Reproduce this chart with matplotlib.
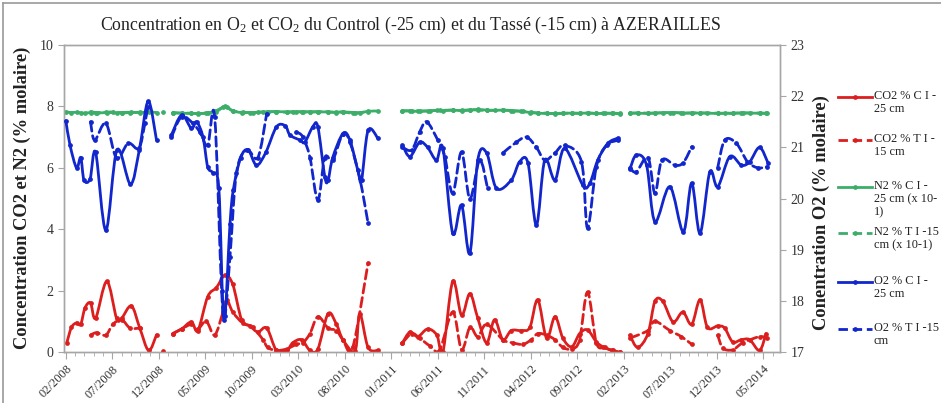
import numpy as np
import matplotlib
matplotlib.use("Agg")
import matplotlib.pyplot as plt
from matplotlib.path import Path
from matplotlib.patches import PathPatch
from matplotlib.lines import Line2D

plt.rcParams['font.family'] = ['Liberation Serif', 'DejaVu Serif']
plt.rcParams['mathtext.fontset'] = 'custom'
plt.rcParams['mathtext.rm'] = 'Liberation Serif'
plt.rcParams['mathtext.it'] = 'Liberation Serif:italic'
plt.rcParams['mathtext.bf'] = 'Liberation Serif:bold'

nan = np.nan

# x = months since 02/2008
tick_labels = ['02/2008', '07/2008', '12/2008', '05/2009', '10/2009', '03/2010', '08/2010', '01/2011',
               '06/2011', '11/2011', '04/2012', '09/2012', '02/2013', '07/2013', '12/2013', '05/2014']

co2_ci_x = [0.1, 0.6, 1.15, 1.6, 2.05, 2.65, 3.2, 4.4, 5.45, 6.0, 7.05, 7.95, 8.9, 9.75, nan,
            11.5, 12.45, 13.5, 14.2, 15.25, 16.2, 17.1, 17.95, 18.9, 19.8, 20.65, 21.6, 22.65, 23.75, 24.4,
            25.35, 26.25, 27.1, 28.2, 29.1, 29.8, 31.1, 31.6, 32.5, 33.55, nan,
            36.2, 37.0, 37.85, 38.9, 39.9, 40.55, 41.6, 42.55, 43.45, 44.3, 45.25, 46.1, 47.0, 47.9, 49.0,
            49.9, 50.75, 51.7, 52.6, 53.45, 54.4, 55.25, 56.1, 57.05, 57.75, 58.7, 59.55, nan,
            60.65, 61.5, 62.6, 63.35, 64.2, 65.3, 66.35, 67.3, 68.2, 69.0, 70.1, 70.85, 71.7, 72.65, 73.55,
            74.6, 75.3]
co2_ci_y = [0.3, 0.8, 0.95, 0.9, 1.43, 1.6, 1.1, 2.3, 1.1, 1.1, 1.5, 0.78, 0.05, 0.56, nan,
            0.6, 0.75, 0.98, 0.7, 1.8, 2.1, 2.5, 2.2, 1.05, 0.85, 0.65, 0.78, 0.05, 0.05, 0.3,
            0.4, 0.05, 0.1, 1.25, 0.9, 0.4, 0.03, 1.25, 0.15, 0.05, nan,
            0.3, 0.65, 0.5, 0.75, 0.55, 0.0, 2.3, 1.2, 1.9, 1.1, 0.3, 1.05, 0.4, 0.7, 0.7,
            0.8, 1.7, 0.45, 1.15, 0.45, 0.17, 0.6, 0.72, 0.33, 0.17, 0.05, 0.0, nan,
            0.55, 0.15, 0.6, 1.65, 1.65, 0.98, 1.3, 0.9, 1.7, 0.8, 0.85, 0.78, 0.33, 0.4, 0.4,
            0.05, 0.6]

co2_ti_x = [2.65, 3.3, 4.3, 5.05, 6.0, 6.9, 7.95, nan, 10.5, nan,
            11.5, 12.45, 13.5, 14.2, 15.1, 16.0, 16.9, 17.3, 17.95, 19.0, 20.1, 21.2, 21.7, 22.65, 23.75,
            24.8, 25.5, 26.25, 27.1, 28.2, 29.1, 29.8, 30.85, 32.5, nan,
            36.2, 37.2, 38.05, 39.15, 40.2, 41.6, 42.55, 43.45, 44.3, 45.25, 47.0, 48.05, 49.15, 50.05,
            50.75, 51.7, 52.6, 53.45, 54.4, 55.25, 56.1, 57.05, 57.95, 58.8, 59.55, nan,
            60.65, 62.6, 63.35, 64.95, 66.2, 67.3, nan,
            70.1, 70.65, 71.7, 72.8, 74.6, 75.35]
co2_ti_y = [0.55, 0.63, 0.55, 0.9, 1.05, 0.78, 0.78, nan, 0.02, nan,
            0.6, 0.75, 0.9, 0.75, 1.0, 0.55, 1.3, 1.7, 1.3, 0.95, 0.8, 0.4, 0.15, 0.05, 0.1,
            0.25, 0.3, 0.6, 1.15, 0.78, 0.7, 0.4, 0.15, 2.9, nan,
            0.3, 0.6, 0.45, 0.2, 0.07, 1.3, 0.08, 0.8, 0.5, 0.9, 0.4, 0.3, 0.25, 0.4,
            0.6, 0.55, 0.4, 0.15, 0.1, 0.4, 1.95, 0.3, 0.15, 0.05, 0.0, nan,
            0.45, 0.7, 1.0, 0.7, 0.5, 0.25, nan,
            0.55, 0.13, 0.07, 0.3, 0.5, 0.45]

n2_ci_x = [0.0, 0.6, 1.15, 1.6, 2.05, 2.65, 3.2, 4.4, 5.45, 6.0, 7.05, 7.95, 8.9, 9.75, nan,
           11.5, 12.45, 13.5, 14.2, 15.25, 16.2, 17.1, 17.95, 18.9, 19.8, 20.65, 21.6, 22.65, 23.75, 24.4,
           25.35, 26.25, 27.1, 28.2, 29.1, 29.8, 31.1, 31.6, 32.5, 33.55, nan,
           36.2, 37.0, 37.85, 38.9, 39.9, 40.55, 41.6, 42.55, 43.45, 44.3, 45.25, 46.1, 47.0, 47.9, 49.0,
           49.9, 50.75, 51.7, 52.6, 53.45, 54.4, 55.25, 56.1, 57.05, 57.75, 58.7, 59.55, nan,
           60.65, 61.5, 62.6, 63.35, 64.2, 65.3, 66.35, 67.3, 68.2, 69.0, 70.1, 70.85, 71.7, 72.65, 73.55,
           74.6, 75.3]
n2_ci_y = [7.82, 7.8, 7.81, 7.79, 7.78, 7.8, 7.78, 7.8, 7.79, 7.8, 7.81, 7.8, 7.82, 7.8, nan,
           7.8, 7.78, 7.77, 7.77, 7.78, 7.83, 8.0, 7.85, 7.8, 7.8, 7.81, 7.82, 7.83, 7.82, 7.83,
           7.82, 7.83, 7.82, 7.82, 7.81, 7.82, 7.8, 7.79, 7.84, 7.85, nan,
           7.86, 7.85, 7.84, 7.85, 7.87, 7.86, 7.88, 7.86, 7.88, 7.9, 7.88, 7.87, 7.88, 7.86, 7.84,
           7.8, 7.78, 7.77, 7.77, 7.78, 7.78, 7.78, 7.78, 7.77, 7.77, 7.78, 7.77, nan,
           7.78, 7.78, 7.77, 7.79, 7.79, 7.8, 7.78, 7.79, 7.78, 7.78, 7.77, 7.78, 7.78, 7.79, 7.78,
           7.78, 7.77]

n2_ti_x = [2.65, 3.3, 4.3, 5.05, 6.0, 6.9, 7.95, nan, 10.5, nan,
           11.5, 12.45, 13.5, 14.2, 15.1, 16.0, 16.9, 17.3, 17.95, 19.0, 20.1, 21.2, 21.7, 22.65, 23.75,
           24.8, 25.5, 26.25, 27.1, 28.2, 29.1, 29.8, 30.85, 32.5, nan,
           36.2, 37.2, 38.05, 39.15, 40.2, 41.6, 42.55, 43.45, 44.3, 45.25, 47.0, 48.05, 49.15, 50.05,
           50.75, 51.7, 52.6, 53.45, 54.4, 55.25, 56.1, 57.05, 57.95, 58.8, 59.55, nan,
           60.65, 61.5, 62.6, 63.35, 64.95, 66.2, 67.3, 68.2, 70.1, 71.7, 72.8, 74.6, 75.35]
n2_ti_y = [7.83, 7.8, 7.81, 7.82, 7.79, 7.8, 7.81, nan, 7.83, nan,
           7.79, 7.78, 7.78, 7.76, 7.79, 7.84, 7.97, 7.98, 7.86, 7.81, 7.8, 7.82, 7.82, 7.83, 7.81,
           7.82, 7.83, 7.81, 7.83, 7.82, 7.8, 7.82, 7.78, 7.83, nan,
           7.85, 7.86, 7.85, 7.86, 7.87, 7.88, 7.87, 7.89, 7.88, 7.87, 7.88, 7.86, 7.84, 7.81,
           7.79, 7.78, 7.76, 7.77, 7.78, 7.77, 7.79, 7.77, 7.78, 7.77, 7.76, nan,
           7.77, 7.79, 7.78, 7.78, 7.8, 7.79, 7.78, 7.79, 7.78, 7.77, 7.79, 7.78, 7.78]

o2_ci_x = [0.0, 0.45, 1.15, 1.6, 1.95, 2.6, 3.2, 4.3, 5.5, 6.95, 7.9, 8.85, 9.75, nan,
           11.35, 12.45, 13.5, 14.05, 14.75, 15.25, 15.8, 16.45, 17.0, 17.65, 18.0, 18.8, 19.6, 20.5, 21.5,
           22.65, 23.6, 24.1, 25.2, 25.7, 26.55, 27.1, 27.85, 28.2, 28.7, 29.8, 30.55, 31.4, 31.8, 32.5,
           33.55, nan,
           36.2, 37.0, 38.05, 38.9, 39.85, 40.55, 41.6, 42.55, 43.45, 44.3, 45.25, 46.3, 47.9, 48.8, 49.7,
           50.6, 51.5, 52.6, 53.65, 55.6, 56.35, 57.2, 58.3, 59.35, nan,
           60.65, 61.35, 62.45, 63.35, 64.95, 66.4, 67.3, 68.2, 69.25, 70.1, 71.4, 72.65, 73.55, 74.6, 75.5]
o2_ci_y = [21.52, 21.04, 20.6, 20.8, 20.36, 20.38, 20.9, 19.38, 20.95, 20.28, 20.95, 21.9, 21.14, nan,
           21.24, 21.63, 21.37, 21.5, 21.2, 20.62, 20.5, 20.2, 17.62, 19.5, 20.16, 20.8, 20.95, 20.65, 20.9,
           21.4, 21.42, 21.24, 21.14, 21.1, 21.4, 21.4, 20.42, 20.36, 20.8, 21.27, 21.14, 20.55, 20.36, 21.33,
           21.18, nan,
           21.04, 20.82, 21.1, 21.0, 20.75, 20.98, 19.32, 19.87, 18.93, 20.75, 20.89, 20.2, 20.36, 20.72, 20.69,
           19.48, 20.75, 20.36, 20.98, 20.26, 20.3, 20.75, 21.08, 21.18, nan,
           20.57, 20.85, 20.65, 19.55, 20.23, 19.35, 20.3, 19.32, 20.52, 20.23, 20.82, 20.65, 20.72, 21.0, 20.7]

o2_ti_x = [2.65, 3.1, 4.3, 5.45, 6.7, 7.85, 8.5, 8.8, nan,
           11.35, 12.45, 13.65, 14.4, 15.25, 16.0, 16.75, 17.1, 17.65, 18.35, 19.45, 20.65, 21.6, nan,
           24.8, 25.5, 26.25, 27.1, 27.85, 28.7, 29.8, 30.55, 31.6, 32.5, nan,
           36.2, 37.2, 38.05, 38.8, 40.0, 40.75, 41.6, 42.55, 43.45, 44.5, 45.35, nan,
           47.0, 48.45, 49.55, 50.6, 51.5, 52.6, 53.65, 55.45, 56.1, 57.05, 58.15, 59.4, nan,
           60.65, 61.35, 62.6, 63.35, 64.1, 65.5, 66.4, 67.3, nan,
           70.1, 70.85, 72.1, 73.3, 74.4, 75.35]
o2_ti_y = [21.5, 21.14, 21.47, 20.79, 21.08, 20.98, 21.47, 21.79, nan,
           21.2, 21.6, 21.47, 21.3, 21.04, 21.6, 18.2, 17.7, 18.86, 20.5, 20.95, 20.8, 21.66, nan,
           21.3, 21.2, 20.8, 19.97, 20.8, 20.75, 21.27, 21.1, 20.4, 19.52, nan,
           21.0, 20.95, 21.3, 21.5, 21.14, 20.82, 20.1, 20.91, 20.0, 20.75, 20.2, nan,
           20.89, 21.1, 21.2, 21.0, 20.75, 20.89, 21.04, 20.72, 19.42, 20.62, 21.04, 21.14, nan,
           20.6, 20.52, 20.8, 20.1, 20.75, 20.65, 20.7, 21.01, nan,
           20.6, 21.14, 21.08, 20.72, 20.6, 20.62]

labels = ['CO2 % C I -\n25 cm', 'CO2 % T I -\n15 cm', 'N2 % C I -\n25 cm (x 10-\n1)',
          'N2 % T I -15\ncm (x 10-1)', 'O2 % C I -\n25 cm', 'O2 % T I -15\ncm']

RED = '#dc1e1e'
GREEN = '#3cae6a'
BLUE = '#1126cc'
GRAY = '#a6a6a6'

W, H = 941, 403
fig = plt.figure(figsize=(W / 100, H / 100), dpi=100)
ax = fig.add_axes([64 / W, 1 - 352 / H, (780 - 64) / W, (352 - 45) / H])
ax2 = ax.twinx()


def smooth_draw(a, xs, ys, color, ls, lw=2.0, z=3):
    xs = np.asarray(xs, float)
    ys = np.asarray(ys, float)
    ok = np.isfinite(xs) & np.isfinite(ys)
    idx = np.where(ok)[0]
    runs = np.split(idx, np.where(np.diff(idx) != 1)[0] + 1)
    verts, codes = [], []
    for r in runs:
        if len(r) < 2:
            continue
        p = np.column_stack([xs[r], ys[r]])
        n = len(p)
        verts.append(p[0]); codes.append(Path.MOVETO)
        for i in range(n - 1):
            pp = p[i - 1] if i > 0 else p[i]
            pn = p[i + 2] if i + 2 < n else p[i + 1]
            c1 = p[i] + (p[i + 1] - pp) / 6.0
            c2 = p[i + 1] - (pn - p[i]) / 6.0
            verts += [c1, c2, p[i + 1]]
            codes += [Path.CURVE4] * 3
    if verts:
        patch = PathPatch(Path(verts, codes), fill=False, edgecolor=color, lw=lw,
                          linestyle=ls, zorder=z, capstyle='round', joinstyle='round')
        a.add_patch(patch)
    a.plot(xs[ok], ys[ok], linestyle='none', marker='o', ms=2.4, color=color, zorder=z + 0.1)


dash = (0, (3.4, 1.7))
smooth_draw(ax, n2_ci_x, n2_ci_y, GREEN, '-')
smooth_draw(ax, n2_ti_x, n2_ti_y, GREEN, dash)
smooth_draw(ax, co2_ti_x, co2_ti_y, RED, dash)
smooth_draw(ax, co2_ci_x, co2_ci_y, RED, '-')
smooth_draw(ax2, o2_ti_x, o2_ti_y, BLUE, dash)
smooth_draw(ax2, o2_ci_x, o2_ci_y, BLUE, '-')

ax.set_xlim(-0.2, 76.8)
ax.set_ylim(0, 10)
ax2.set_ylim(17, 23)
ax.set_yticks([0, 2, 4, 6, 8, 10])
ax2.set_yticks([17, 18, 19, 20, 21, 22, 23])
ax.set_xticks(np.arange(0, 5 * len(tick_labels), 5))
ax.set_xticks(np.arange(0, 77, 1), minor=True)
ax.set_xticklabels(tick_labels, rotation=45, ha='right', rotation_mode='anchor')

for a in (ax, ax2):
    for s in a.spines.values():
        s.set_color(GRAY)
        s.set_linewidth(1.0)
ax.tick_params(axis='x', which='major', length=5, color=GRAY, labelsize=9, labelcolor='#333333', pad=3)
ax.tick_params(axis='x', which='minor', length=3, color=GRAY)
ax.tick_params(axis='y', length=4, color=GRAY, labelsize=10, labelcolor='#333333')
ax2.tick_params(axis='y', length=4, color=GRAY, labelsize=10, labelcolor='#333333')

fig.text(411 / W, 1 - 25 / H,
         'Concentration en O$_2$ et CO$_2$ du Control (-25 cm) et du Tassé (-15 cm) à AZERAILLES',
         ha='center', va='center', fontsize=12.8, color='#222222')
fig.text(22 / W, 1 - 198 / H, 'Concentration CO2 et N2 (% molaire)', rotation=90,
         ha='center', va='center', fontsize=13.3, fontweight='bold', color='#222222')
fig.text(821 / W, 1 - 213 / H, 'Conentration O2 (% molaire)', rotation=90,
         ha='center', va='center', fontsize=13.3, fontweight='bold', color='#222222')

# legend
colors = [RED, RED, GREEN, GREEN, BLUE, BLUE]
styles = ['-', dash, '-', dash, '-', dash]
ys_px = [97, 140, 187, 233, 282, 329]
for lab, c, st, yp in zip(labels, colors, styles, ys_px):
    yf = 1 - yp / H
    fig.add_artist(Line2D([838 / W, 872 / W], [yf, yf], color=c, lw=2.0, linestyle=st,
                          transform=fig.transFigure))
    fig.add_artist(Line2D([855 / W], [yf], color=c, marker='o', ms=2.4,
                          transform=fig.transFigure))
    fig.text(874 / W, 1 - (yp - 7) / H, lab, ha='left', va='top', fontsize=8.8,
             color='#222222', linespacing=1.15)

# chart border (left and top)
fig.add_artist(Line2D([3 / W, 3 / W], [0, 1 - 3 / H], color='#9a9a9a', lw=1.2, transform=fig.transFigure))
fig.add_artist(Line2D([3 / W, 1], [1 - 3 / H, 1 - 3 / H], color='#9a9a9a', lw=1.2, transform=fig.transFigure))

fig.savefig('out.png', dpi=100)
